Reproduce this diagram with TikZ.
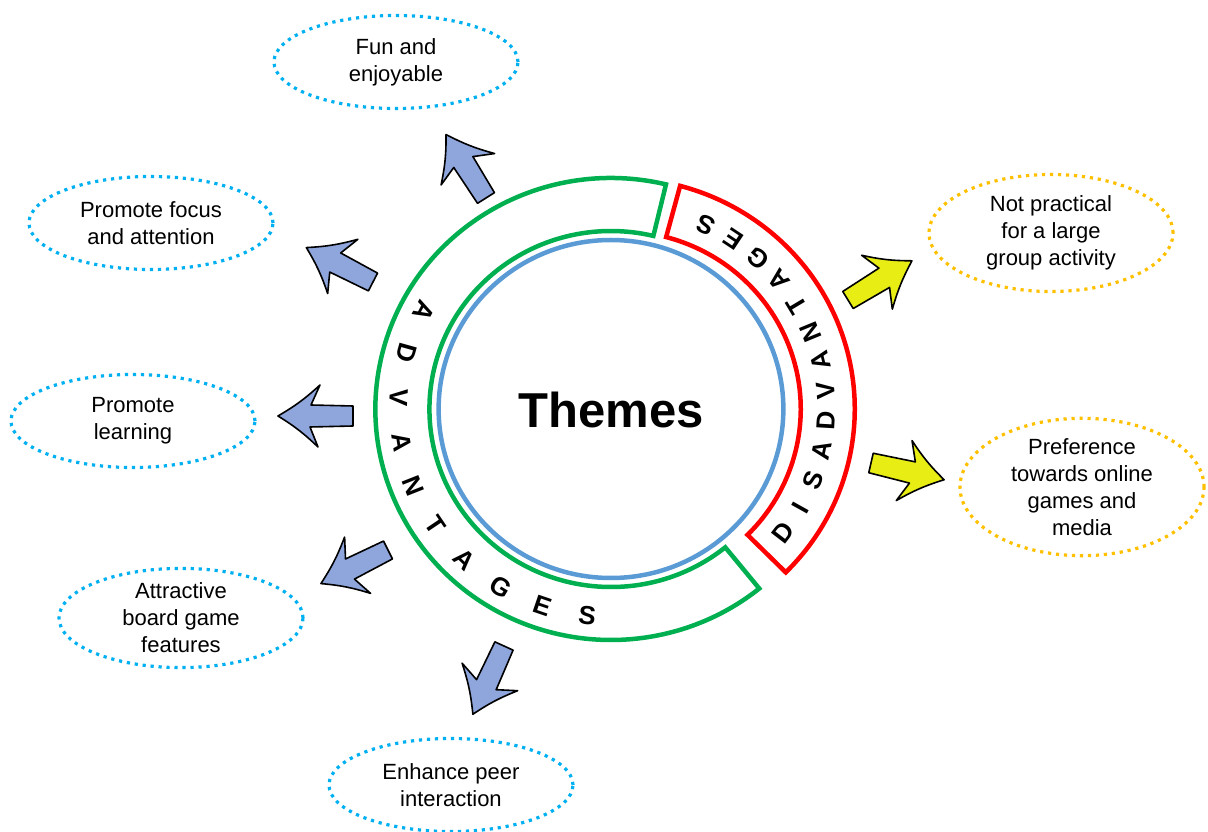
\documentclass[tikz,border=0pt]{standalone}
\usepackage{fontspec}
\setmainfont{Liberation Sans}
\usetikzlibrary{shapes.geometric}

\definecolor{advgreen}{RGB}{0,176,80}
\definecolor{disred}{RGB}{255,0,0}
\definecolor{coreblue}{RGB}{91,155,213}
\definecolor{dotblue}{RGB}{0,176,240}
\definecolor{dotyellow}{RGB}{255,192,0}
\definecolor{arrowblue}{RGB}{142,166,220}
\definecolor{arrowyellow}{RGB}{232,238,20}

% breiter Pfeil, Schwanz bei (0,0), Spitze bei (75,0)
\tikzset{
  pics/fatarrow/.style={code={
    \draw[#1] (0,-10) -- (42,-11) -- (33,-31) to[bend left=6] (75,0)
      to[bend left=6] (35,31) -- (43,11) -- (0,10) -- cycle;
  }}
}

\begin{document}
\begin{tikzpicture}[x=1pt, y=1pt,
    % Stile für die Ellipsen
        idea/.style={ellipse, draw=dotblue, line width=3.2pt, dash pattern=on 3.2pt off 4.8pt, minimum width=244pt, minimum height=93pt, inner sep=0pt, align=center, font=\fontsize{22}{27}\selectfont},
        issue/.style={idea, draw=dotyellow, minimum height=117pt},
    % Stile für Ring und Buchstaben
        ring/.style={line width=4.5pt},
        letter/.style={font=\fontsize{26}{26}\selectfont\bfseries, inner sep=0pt},
    % Stile für die Pfeile
        proarrow/.style={fill=arrowblue, draw=black, line width=1.6pt, line join=round},
        conarrow/.style={fill=arrowyellow, draw=black, line width=1.6pt, line join=round}]

        \useasboundingbox (-611,-423) rectangle (597,409);

        % Ring mit Vor- und Nachteilen
        \begin{scope}[xscale=1.02]
            \draw[ring, coreblue] (0,0) circle[radius=169];
            \draw[ring, advgreen] (76.5:231) arc[start angle=76.5, end angle=309, radius=231]
                -- (309:178) arc[start angle=309, end angle=76.5, radius=178] -- cycle;
            \foreach \ch [count=\i from 0] in {A,D,V,A,N,T,A,G,E,S}
                \node[letter, rotate=242+12.4*\i] (adv\i) at ({152+12.4*\i}:208) {\ch};
            \begin{scope}[shift={(8,0)}]
                \draw[ring, disred] (-45:231) arc[start angle=-45, end angle=75, radius=231]
                    -- (75:178) arc[start angle=75, end angle=-45, radius=178] -- cycle;
                \foreach \ch [count=\i from 0] in {D,I,S,A,D,V,A,N,T,A,G,E,S}
                    \node[letter, rotate=52.4+8.56*\i] (dis\i) at ({-37.6+8.56*\i}:203) {\ch};
            \end{scope}
        \end{scope}

        \node[font=\fontsize{49}{49}\selectfont\bfseries] (themes) at (0,-1) {Themes};

        % Vorteile
        \node[idea] (fun) at (-215,347) {Fun and\\enjoyable};
        \node[idea] (focus) at (-460,186) {Promote focus\\and attention};
        \node[idea] (learn) at (-478,-12) {Promote\\learning};
        \node[idea] (attract) at (-430,-209) {Attractive\\board game\\features};
        \node[idea] (peer) at (-160,-376) {Enhance peer\\interaction};

        % Nachteile
        \node[issue] (group) at (440,176) {Not practical\\for a large\\group activity};
        \node[issue] (online) at (471,-78) {Preference\\towards online\\games and\\media};

        % Pfeile
        \pic[rotate=122.2] (afun) at (-125,211) {fatarrow=proarrow};
        \pic[rotate=152.7] (afocus) at (-238,127) {fatarrow=proarrow};
        \pic[rotate=180] (alearn) at (-258,-7) {fatarrow=proarrow};
        \pic[rotate=206.6] (aattract) at (-223,-141) {fatarrow=proarrow};
        \pic[rotate=245.5] (apeer) at (-107,-237) {fatarrow=proarrow};
        \pic[rotate=31.5] (agroup) at (237,109) {fatarrow=conarrow};
        \pic[rotate=-12.9] (aonline) at (260,-54) {fatarrow=conarrow};
    \end{tikzpicture}
\end{document}
